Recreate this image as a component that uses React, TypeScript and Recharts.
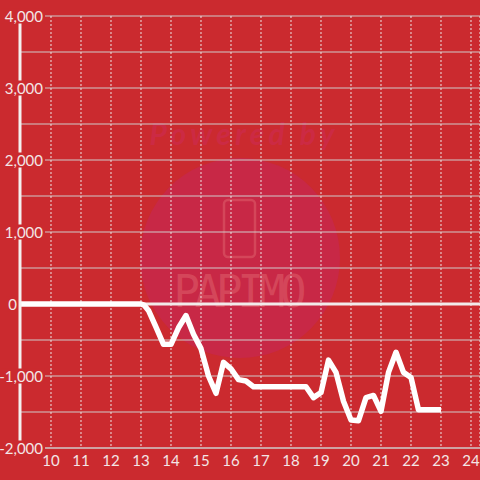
import { CartesianGrid, Line, LineChart, ReferenceLine, XAxis, YAxis } from "recharts";

const hours = [
  9, 10, 11, 12, 13, 13.1, 13.25, 13.5, 13.75, 14, 14.25, 14.5, 14.75, 15, 15.25, 15.5, 15.75, 16, 16.25, 16.5,
  16.75, 17, 17.25, 17.5, 17.75, 18, 18.25, 18.5, 18.75, 19, 19.25, 19.5, 19.75, 20, 20.25, 20.5, 20.75, 21,
  21.25, 21.5, 21.75, 22, 22.25, 22.5, 22.75, 23,
];
const balance = [
  0, 0, 0, 0, 0, -15, -90, -320, -560, -560, -330, -160, -420, -620, -1000, -1240, -810, -900, -1050, -1070,
  -1150, -1150, -1150, -1150, -1150, -1150, -1150, -1150, -1300, -1230, -780, -950, -1350, -1610, -1620,
  -1300, -1270, -1490, -950, -670, -950, -1020, -1470, -1470, -1470, -1470,
];
const xTicks = [10, 11, 12, 13, 14, 15, 16, 17, 18, 19, 20, 21, 22, 23, 24];
const yTicks = [-2000, -1500, -1000, -500, 0, 500, 1000, 1500, 2000, 2500, 3000, 3500, 4000];

const data = hours.map((h, i) => ({ h, v: balance[i] }));

const BG = "#cb2a2f";
const LABEL = "#f3e6e6";
const FONT = "Lato, 'Liberation Sans', sans-serif";

const fmt = (v: number) => v.toLocaleString("en-US");

function YTick(props: any) {
  const { y, payload } = props;
  const v = payload.value as number;
  if (v % 1000 !== 0) return null;
  const right = v === 0 ? 17 : 43;
  const left = v === 0 ? 6 : 1;
  const boxRight = v === 0 ? 18 : 45;
  return (
    <g>
      <rect x={left} y={y - 7.5} width={boxRight - left} height={15} fill={BG} />
      <text x={right} y={y + 5.5} textAnchor="end" fill={LABEL} fontSize={15} fontFamily={FONT}>
        {fmt(v)}
      </text>
    </g>
  );
}

function XTick(props: any) {
  const { x, payload } = props;
  return (
    <text x={x} y={466} textAnchor="middle" fill={LABEL} fontSize={15} fontFamily={FONT}>
      {payload.value}
    </text>
  );
}

function Watermark() {
  return (
    <svg width={480} height={480} style={{ position: "absolute", left: 0, top: 0 }}>
      <circle cx={240} cy={258} r={100} fill="#c82846" />
      <text
        x={242}
        y={145}
        textAnchor="middle"
        fontSize={30}
        fontWeight={700}
        fontStyle="italic"
        fontFamily={FONT}
        fill="#cc2a44"
        textLength={185}
      >
        Powered by
      </text>
      <rect x={224} y={200} width={31} height={57} rx={4} fill="none" stroke="#d4465a" strokeWidth={2.5} />
      <text
        x={240}
        y={307}
        textAnchor="middle"
        fontSize={44}
        fontFamily="'DejaVu Sans Mono', monospace"
        fill="#d4465a"
        textLength={133}
      >
        PAPIMO
      </text>
    </svg>
  );
}

export default function App() {
  return (
    <div style={{ position: "absolute", left: 0, top: 0, width: 480, height: 480, background: BG }}>
      <Watermark />
      <div style={{ position: "absolute", left: 0, top: 0 }}>
        <LineChart width={480} height={480} data={data} margin={{ top: 16, right: 0, bottom: 0, left: 0 }}>
          <CartesianGrid vertical={false} stroke="#cfcaca" strokeWidth={1.2} />
          <CartesianGrid horizontal={false} stroke="#ece6e6" strokeDasharray="2 2" />
          <ReferenceLine y={0} stroke="#f2eaea" strokeWidth={3} />
          <XAxis
            dataKey="h"
            type="number"
            domain={[8.9667, 24.3]}
            ticks={xTicks}
            interval={0}
            height={32}
            axisLine={{ stroke: "#cfcaca", strokeWidth: 1.2 }}
            tickLine={false}
            tick={<XTick />}
            allowDataOverflow
          />
          <YAxis
            type="number"
            domain={[-2000, 4000]}
            ticks={yTicks}
            interval={0}
            width={20}
            axisLine={{ stroke: "#f4f0f0", strokeWidth: 3 }}
            tickLine={false}
            tick={<YTick />}
            allowDataOverflow
          />
          <Line
            dataKey="v"
            type="linear"
            stroke="#ffffff"
            strokeWidth={5.5}
            dot={false}
            isAnimationActive={false}
            strokeLinejoin="round"
          />
        </LineChart>
      </div>
    </div>
  );
}
